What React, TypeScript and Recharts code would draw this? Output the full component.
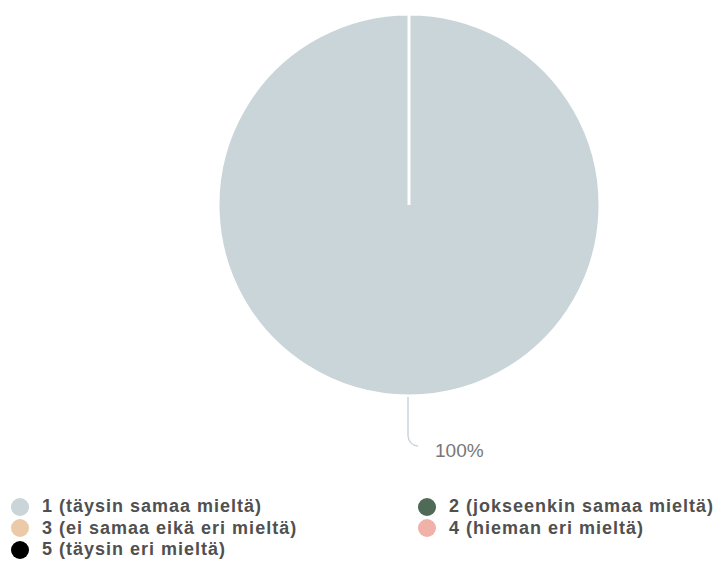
import { Cell, Legend, Pie, PieChart } from "recharts";

const CATEGORIES = [
  "1 (täysin samaa mieltä)",
  "2 (jokseenkin samaa mieltä)",
  "3 (ei samaa eikä eri mieltä)",
  "4 (hieman eri mieltä)",
  "5 (täysin eri mieltä)",
];
const SHARES = [100, 0, 0, 0, 0];
const COLORS = ["#c9d5d9", "#4f6a57", "#ebc9a9", "#f0b1a9", "#000000"];

const data = CATEGORIES.map((label, i) => ({ label, value: SHARES[i] }));

const RAD = Math.PI / 180;

// leader line: straight down from the rim, then a soft bend to the right
const renderLabelLine = (props: any) => {
  if (!props.value) return <g />;
  const { cx, cy, outerRadius, midAngle } = props;
  const x = cx + outerRadius * Math.cos(-midAngle * RAD) - 1;
  const y = cy + outerRadius * Math.sin(-midAngle * RAD);
  return (
    <path
      d={`M${x},${y + 1} L${x},${y + 40} Q${x + 1},${y + 49} ${x + 10},${y + 50}`}
      stroke="#c9d5d9"
      strokeWidth={1.5}
      fill="none"
    />
  );
};

const renderLabel = (props: any) => {
  if (!props.value) return null;
  const { cx, cy, outerRadius, midAngle, percent } = props;
  const x = cx + outerRadius * Math.cos(-midAngle * RAD);
  const y = cy + outerRadius * Math.sin(-midAngle * RAD);
  return (
    <text x={x + 26} y={y + 61} fill="#777" fontSize={19} fontFamily="Liberation Sans, Arial, sans-serif">
      {`${Math.round(percent * 100)}%`}
    </text>
  );
};

const LegendGrid = () => (
  <div
    style={{
      display: "grid",
      gridTemplateColumns: "407px auto",
      fontFamily: "Liberation Sans, Arial, sans-serif",
      fontSize: 18,
      fontWeight: "bold",
      letterSpacing: 1,
      color: "#505050",
      lineHeight: "21.5px",
    }}
  >
    {CATEGORIES.map((label, i) => (
      <div key={label} style={{ display: "flex", alignItems: "center", whiteSpace: "nowrap" }}>
        <span
          style={{
            display: "inline-block",
            width: 18,
            height: 18,
            borderRadius: "50%",
            background: COLORS[i],
            marginRight: i % 2 === 0 ? 13 : 13,
          }}
        />
        {label}
      </div>
    ))}
  </div>
);

export default function App() {
  return (
    <div style={{ position: "absolute", left: 0, top: 0, width: 716, height: 561, background: "#fff" }}>
      <PieChart width={716} height={561} margin={{ top: 0, right: 0, bottom: 0, left: 0 }}>
        <Pie
          data={data}
          dataKey="value"
          nameKey="label"
          cx={409}
          cy={205}
          outerRadius={191}
          startAngle={90}
          endAngle={-270}
          stroke="#fff"
          strokeWidth={3}
          label={renderLabel}
          labelLine={renderLabelLine}
          isAnimationActive={false}
        >
          {data.map((entry, i) => (
            <Cell key={entry.label} fill={COLORS[i]} />
          ))}
        </Pie>
        <Legend
          content={() => <LegendGrid />}
          wrapperStyle={{ position: "absolute", left: 11, top: 496, width: 705, height: 65 }}
        />
      </PieChart>
    </div>
  );
}
